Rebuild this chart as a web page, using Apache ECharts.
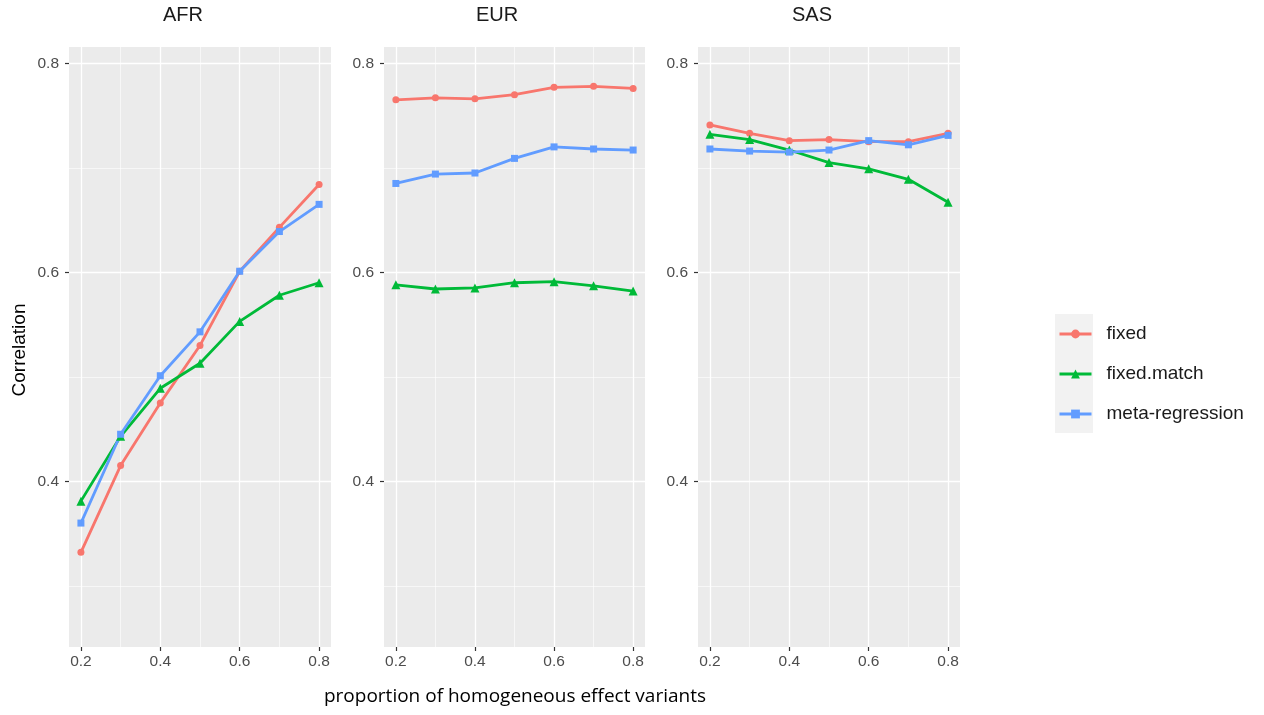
<!DOCTYPE html>
<html>
<head>
<meta charset="utf-8">
<script src="https://cdn.jsdelivr.net/npm/echarts@6/dist/echarts.min.js"></script>
<style>
  html, body { margin: 0; padding: 0; background: #ffffff; }
  #chart { width: 1264px; height: 715px; }
</style>
</head>
<body>
<div id="chart"></div>
<script>
// Facets (populations), x values and methods
const panels = ['AFR', 'EUR', 'SAS'];
const proportions = [0.2, 0.3, 0.4, 0.5, 0.6, 0.7, 0.8];
const methods = ['fixed', 'fixed.match', 'meta-regression'];

// Correlation per proportion, one array per population and method
const afrFixed = [0.332, 0.415, 0.475, 0.530, 0.601, 0.643, 0.684];
const afrFixedMatch = [0.381, 0.443, 0.489, 0.513, 0.553, 0.578, 0.590];
const afrMetaRegression = [0.360, 0.445, 0.501, 0.543, 0.601, 0.639, 0.665];

const eurFixed = [0.765, 0.767, 0.766, 0.770, 0.777, 0.778, 0.776];
const eurFixedMatch = [0.588, 0.584, 0.585, 0.590, 0.591, 0.587, 0.582];
const eurMetaRegression = [0.685, 0.694, 0.695, 0.709, 0.720, 0.718, 0.717];

const sasFixed = [0.741, 0.733, 0.726, 0.727, 0.725, 0.725, 0.733];
const sasFixedMatch = [0.732, 0.727, 0.717, 0.705, 0.699, 0.689, 0.667];
const sasMetaRegression = [0.718, 0.716, 0.715, 0.717, 0.726, 0.722, 0.731];

// Tick labels and grid line positions
const xTicks = [0.2, 0.4, 0.6, 0.8];
const xMinorTicks = [0.3, 0.5, 0.7];
const yTicks = [0.4, 0.6, 0.8];
const yMinorTicks = [0.3, 0.5, 0.7];

const seriesValues = {
  AFR: [afrFixed, afrFixedMatch, afrMetaRegression],
  EUR: [eurFixed, eurFixedMatch, eurMetaRegression],
  SAS: [sasFixed, sasFixedMatch, sasMetaRegression]
};

// ggplot2 default hue palette and point shapes
const colors = ['#F8766D', '#00BA38', '#619CFF'];
const symbols = ['circle', 'triangle', 'rect'];
const symbolSizes = [7, 9, 7];

const FONT = '"Liberation Sans", Arial, sans-serif';
const panelLeft = [69, 384, 698];
const panelWidth = [262, 261, 262];
const panelTop = 47, panelHeight = 600;
const titleCenters = [183, 497, 812];

const chart = echarts.init(document.getElementById('chart'), null, { renderer: 'canvas' });

const grids = panels.map((p, i) => ({
  left: panelLeft[i], top: panelTop, width: panelWidth[i], height: panelHeight,
  show: true, backgroundColor: '#EBEBEB', borderWidth: 0, containLabel: false
}));

const tickStyle = { show: true, length: 4, lineStyle: { color: '#333333', width: 1.2 } };

const xAxes = panels.map((p, i) => ({
  type: 'value', gridIndex: i, min: 0.17, max: 0.83,
  axisLine: { show: false },
  splitLine: { show: false },
  axisTick: Object.assign({ customValues: xTicks }, tickStyle),
  axisLabel: {
    customValues: xTicks, margin: 7, color: '#4D4D4D', fontSize: 15.5, fontFamily: FONT,
    formatter: v => v.toFixed(1)
  }
}));

const yAxes = panels.map((p, i) => ({
  type: 'value', gridIndex: i, min: 0.2414, max: 0.8156,
  axisLine: { show: false },
  splitLine: { show: false },
  axisTick: Object.assign({ customValues: yTicks }, tickStyle),
  axisLabel: {
    customValues: yTicks, margin: 10, color: '#4D4D4D', fontSize: 15.5, fontFamily: FONT,
    formatter: v => v.toFixed(1)
  }
}));

const series = [];

// White panel grid lines, drawn beneath the data lines
panels.forEach((p, i) => {
  const major = { color: '#FFFFFF', width: 1.3, type: 'solid' };
  const minor = { color: '#FFFFFF', width: 0.6, type: 'solid' };
  const lines = []
    .concat(yMinorTicks.map(v => ({ yAxis: v, lineStyle: minor })))
    .concat(xMinorTicks.map(v => ({ xAxis: v, lineStyle: minor })))
    .concat(yTicks.map(v => ({ yAxis: v, lineStyle: major })))
    .concat(xTicks.map(v => ({ xAxis: v, lineStyle: major })));
  series.push({
    name: 'grid-' + p, type: 'line', xAxisIndex: i, yAxisIndex: i,
    data: [], z: 1, silent: true, animation: false,
    markLine: {
      z: 1, silent: true, symbol: ['none', 'none'], animation: false,
      label: { show: false }, emphasis: { disabled: true },
      data: lines
    }
  });
});

// Method lines with points in each panel
panels.forEach((p, i) => {
  methods.forEach((m, k) => {
    series.push({
      name: m, type: 'line', xAxisIndex: i, yAxisIndex: i, z: 3,
      data: proportions.map((x, j) => [x, seriesValues[p][k][j]]),
      symbol: symbols[k], symbolSize: symbolSizes[k], showSymbol: true,
      lineStyle: { color: colors[k], width: 2.8 },
      itemStyle: { color: colors[k], borderWidth: 0 },
      emphasis: { disabled: true },
      animation: false
    });
  });
});

const option = {
  backgroundColor: '#FFFFFF',
  animation: false,
  grid: grids,
  xAxis: xAxes,
  yAxis: yAxes,
  series: series,
  title: panels.map((p, i) => ({
    text: p, left: titleCenters[i], top: 5, textAlign: 'center', padding: 0,
    textStyle: { fontFamily: FONT, fontSize: 20, fontWeight: 'normal', color: '#1A1A1A' }
  })),
  legend: {
    data: methods, orient: 'vertical', left: 1058, top: 324, padding: 0,
    itemWidth: 32, itemHeight: 11, itemGap: 20,
    selectedMode: false,
    lineStyle: { width: 3 },
    textStyle: { fontFamily: FONT, fontSize: 19, color: '#1A1A1A', lineHeight: 20, padding: [0, 0, 0, 10] }
  },
  graphic: [
    {
      type: 'rect', z: -1, silent: true,
      shape: { x: 1055, y: 314, width: 38, height: 119 },
      style: { fill: '#F2F2F2' }
    },
    {
      type: 'text', silent: true,
      x: 20, y: 350, rotation: Math.PI / 2,
      style: { text: 'Correlation', font: '19px ' + FONT, fill: '#000000', align: 'center', verticalAlign: 'middle' }
    },
    {
      type: 'text', silent: true,
      x: 515, y: 697,
      style: { text: 'proportion of homogeneous effect variants', font: '19px "Open Sans", sans-serif', fill: '#000000', align: 'center', verticalAlign: 'middle' }
    }
  ]
};

chart.setOption(option);
</script>
</body>
</html>
